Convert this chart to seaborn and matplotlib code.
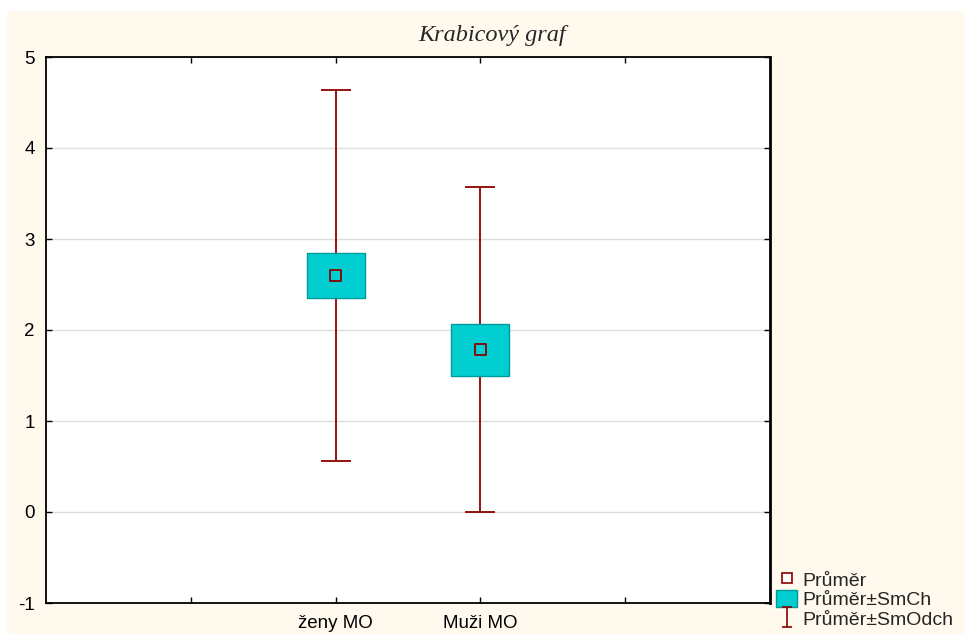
import numpy as np
import pandas as pd
import seaborn as sns
import matplotlib
matplotlib.use("Agg")
import matplotlib.pyplot as plt
from matplotlib.patches import Rectangle, Patch
from matplotlib.lines import Line2D
from matplotlib.path import Path

# ---- data ----
categories = ["ženy MO", "Muži MO"]
means = [2.60, 1.785]
se = [0.245, 0.285]
sd = [2.035, 1.785]
title = "Krabicový graf"
legend_labels = ["Průměr", "Průměr±SmCh", "Průměr±SmOdch"]

sns.set_theme(style="white")
plt.rcParams["font.family"] = ["Liberation Sans", "DejaVu Sans"]
plt.rcParams["axes.unicode_minus"] = False

CYAN = "#00CED1"
DARKRED = "#8B0000"
EDGE = "#009A9A"
CREAM = "#FFF9EE"

df = pd.DataFrame({"cat": categories, "mean": means, "se": se, "sd": sd})
df["x"] = np.arange(len(df))

fig = plt.figure(figsize=(9.64, 6.34), dpi=100, facecolor="white")
fig.patches.append(Rectangle((7 / 964, 0), 1 - 7 / 964, 1 - 11 / 634,
                             transform=fig.transFigure, facecolor=CREAM,
                             edgecolor="none", zorder=-10))
ax = fig.add_axes([46 / 964, 1 - 603 / 634, (770 - 46) / 964, (603 - 57) / 634])
ax.set_facecolor("white")

# SD whiskers
eb = ax.errorbar(df["x"], df["mean"], yerr=df["sd"], fmt="none", ecolor=DARKRED,
                 elinewidth=1.3, capsize=10.8, capthick=1.3, zorder=2)
# SE boxes
bars = ax.bar(df["x"], 2 * df["se"], bottom=df["mean"] - df["se"], width=0.40,
              color=CYAN, edgecolor=EDGE, linewidth=1.0, zorder=3)
# means
sns.scatterplot(data=df, x="x", y="mean", marker="s", s=55, facecolor="none",
                edgecolor=DARKRED, linewidth=1.3, ax=ax, zorder=4, legend=False)

ax.set_xlim(-2, 3)
ax.set_ylim(-1, 5)
ax.set_xticks([-1, 0, 1, 2])
ax.set_xticklabels(["", categories[0], categories[1], ""])
ax.set_yticks(range(-1, 6))
ax.set_xlabel("")
ax.set_ylabel("")
ax.yaxis.grid(True, color="#DDDDDD", linewidth=1.0)
ax.set_axisbelow(True)
for s in ax.spines.values():
    s.set_visible(True)
    s.set_color("black")
    s.set_linewidth(1.3)
ax.spines["right"].set_linewidth(2.0)
ax.tick_params(axis="both", which="both", direction="in", length=4, width=1,
               color="black", labelsize=13.5, labelcolor="black",
               top=True, bottom=True, left=True, right=True)
ax.tick_params(axis="y", pad=8)
ax.tick_params(axis="x", pad=9)

fig.text(492 / 964, 1 - 35 / 634, title, ha="center", va="center",
         family="Liberation Serif", style="italic", fontsize=17.5)

ibar = Path([(-0.5, 1), (0.5, 1), (0, 1), (0, -1), (-0.5, -1), (0.5, -1)],
            [Path.MOVETO, Path.LINETO, Path.MOVETO, Path.LINETO, Path.MOVETO, Path.LINETO])
h1 = Line2D([], [], marker="s", linestyle="none", markersize=7,
            markerfacecolor="white", markeredgecolor=DARKRED, markeredgewidth=1.2)
h2 = Patch(facecolor=CYAN, edgecolor=EDGE)
h3 = Line2D([], [], marker=ibar, linestyle="none", markersize=14,
            markeredgecolor=DARKRED, markerfacecolor="none", markeredgewidth=1.2)
leg = fig.legend([h1, h2, h3], legend_labels, loc="lower left",
                 bbox_to_anchor=(774 / 964, 3 / 634), frameon=False,
                 fontsize=14, handlelength=1.1, handleheight=1.0, handletextpad=0.25,
                 labelspacing=0.02, borderaxespad=0, borderpad=0.1)

fig.savefig("out.png", dpi=100, facecolor=fig.get_facecolor())
